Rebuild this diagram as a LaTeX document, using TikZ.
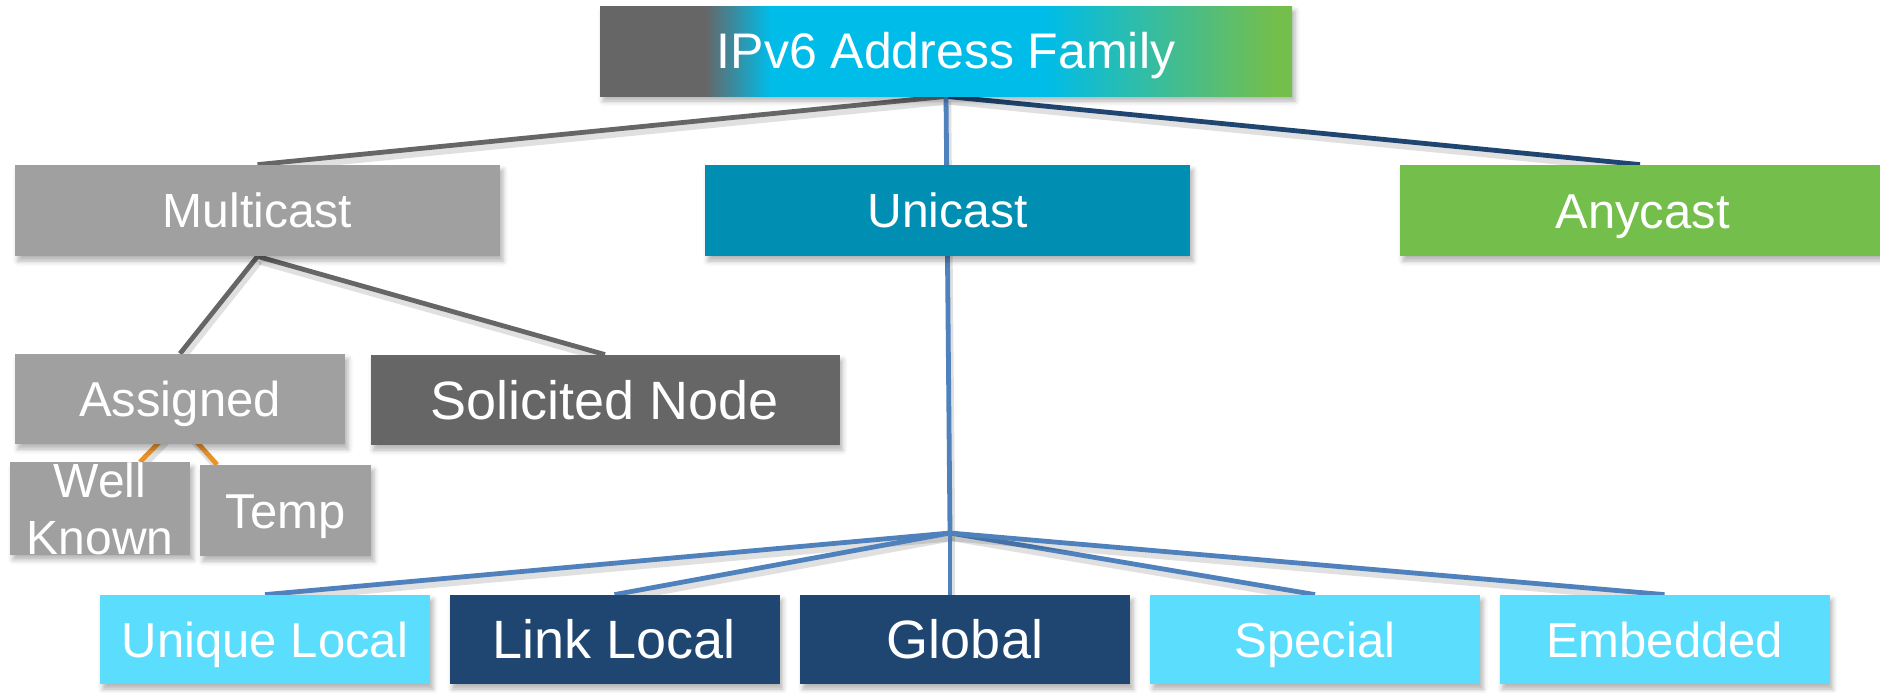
\documentclass[tikz,border=0pt]{standalone}
\usepackage{fontspec}
\setmainfont{Liberation Sans}
\usetikzlibrary{shadows.blur,calc}

\definecolor{tgray}{HTML}{666666}
\definecolor{tcyan}{HTML}{00BCE8}
\definecolor{tgreen}{HTML}{74BE4C}
\definecolor{lgray}{HTML}{A0A0A0}
\definecolor{ucteal}{HTML}{008FB2}
\definecolor{lcyan}{HTML}{5BDDFE}
\definecolor{navy}{HTML}{1F4571}
\definecolor{lblue}{HTML}{4F81BD}
\definecolor{orng}{HTML}{E8922C}

% grey -> cyan -> green band for the root box
\pgfdeclarehorizontalshading{topgrad}{100bp}{%
  color(0bp)=(tgray); color(32.6bp)=(tgray); color(37.3bp)=(tcyan);
  color(57.2bp)=(tcyan); color(73.8bp)=(tgreen); color(100bp)=(tgreen)}

\pgfdeclarelayer{links}
\pgfsetlayers{links,main}

\begin{document}
\begin{tikzpicture}[x=0.5pt,y=-0.5pt,
  box/.style={rectangle, inner sep=0pt, text=white, align=center,
    blur shadow={shadow xshift=1.5pt, shadow yshift=-2.5pt,
      shadow blur radius=2.5pt, shadow opacity=30}},
  wide/.style={minimum width=242.5pt, minimum height=45.5pt},
  leaf/.style={minimum width=165pt, minimum height=44.5pt},
  conn/.style={line width=2.4pt,
    preaction={draw=black, draw opacity=0.12, line width=3.2pt,
      transform canvas={shift={(1pt,-2.5pt)}}}},
  txt/.style={font=\fontsize{#1}{#1}\selectfont,
    text height={0.716*#1pt}, text depth=0pt}]

\useasboundingbox (0,0) rectangle (1880,692);

% boxes
\node[box, shading=topgrad, minimum width=346pt, minimum height=45pt, txt=25] (root) at (946,51) {IPv6 Address Family};
\node[box, wide, fill=lgray, txt=24] (mc) at (257.5,210.5) {Multicast};
\node[box, wide, fill=ucteal, txt=24] (uc) at (947.5,210.5) {Unicast};
\node[box, wide, fill=tgreen, txt=24.5] (ac) at (1642.5,210.5) {Anycast};

\node[box, fill=lgray, minimum width=165pt, minimum height=45pt, txt=24.5] (as) at (180,399) {Assigned};
\node[box, fill=tgray, minimum width=234.5pt, minimum height=45pt, txt=27] (sn) at (605,400) {Solicited Node};
\node[box, fill=lgray, minimum width=90pt, minimum height=45.5pt,
      font=\fontsize{24}{28.5}\selectfont] (wk) at (100,508.5) {Well\\Known};
\node[box, fill=lgray, minimum width=85.5pt, minimum height=45.5pt, txt=24.5] (tp) at (285.5,510.5) {Temp};

\node[box, leaf, fill=lcyan, txt=24.5] (ul) at (265,639.5) {Unique Local};
\node[box, leaf, fill=navy, txt=27] (ll) at (614.5,639.5) {Link Local};
\node[box, leaf, fill=navy, txt=27] (gl) at (965,639.5) {Global};
\node[box, leaf, fill=lcyan, txt=24.5] (sp) at (1315,639.5) {Special};
\node[box, leaf, fill=lcyan, txt=24.5] (em) at (1664.5,639.5) {Embedded};

% connectors, kept behind the boxes
\coordinate (uj) at (950,533);
\coordinate (aj) at (179,422);
\begin{pgfonlayer}{links}
  \draw[conn, tgray] (root.south) -- (mc.north);
  \draw[conn, navy] (root.south) -- ($(ac.north)+(-2.5,0)$);
  \draw[conn, lblue] (root.south) -- (uj);
  \draw[conn, lblue] (uj) -- (ul.north);
  \draw[conn, lblue] (uj) -- (ll.north);
  \draw[conn, lblue] (uj) -- (uj |- gl.north);
  \draw[conn, lblue] (uj) -- (sp.north);
  \draw[conn, lblue] (uj) -- (em.north);
  \draw[conn, tgray] (mc.south) -- (as.north);
  \draw[conn, tgray] (mc.south) -- (sn.north);
  \draw[conn, orng] (aj) -- ($(wk.north)+(40,0)$);
  \draw[conn, orng] (aj) -- ($(tp.north)+(-68.5,0)$);
\end{pgfonlayer}
\end{tikzpicture}
\end{document}
